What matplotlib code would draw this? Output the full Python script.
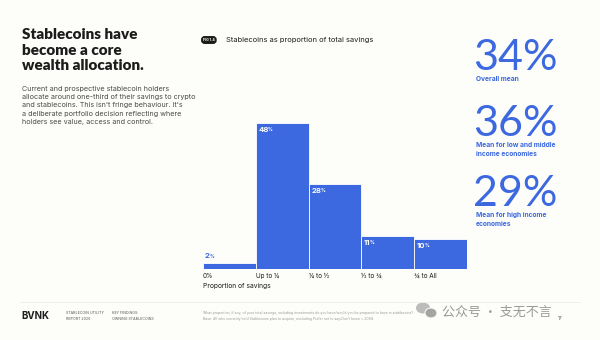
import matplotlib
matplotlib.use("Agg")
import matplotlib.pyplot as plt
from matplotlib.patches import Ellipse
import numpy as np

# savings buckets and share of respondents
buckets = ["0%", "Up to \u00bc", "\u00bc to \u00bd", "\u00bd to \u00be", "\u00be to All"]
shares = [2, 48, 28, 11, 10]

# headline means
mean_values = ["34%", "36%", "29%"]
mean_labels = ["Overall mean", "Mean for low and middle\nincome economies",
               "Mean for high income\neconomies"]

BLUE = "#3c68e0"
BG = "#fdfdf9"
DARK = "#1c1c1c"

plt.rcParams['font.family'] = ['Inter', 'DejaVu Sans']

fig = plt.figure(figsize=(6, 3.4), dpi=100)
fig.patch.set_facecolor(BG)

W, H = 600, 340
def fx(px):
    return px / W
def fy(py):
    return 1 - py / H

# left column
fig.text(fx(22), fy(28), "Stablecoins have\nbecome a core\nwealth allocation.",
         fontsize=11.0, fontweight="heavy", color=DARK, va="top", ha="left",
         linespacing=1.24, family=['Lato', 'DejaVu Sans'])
fig.text(fx(22), fy(86),
         "Current and prospective stablecoin holders\n"
         "allocate around one-third of their savings to crypto\n"
         "and stablecoins. This isn't fringe behaviour. It's\n"
         "a deliberate portfolio decision reflecting where\n"
         "holders see value, access and control.",
         fontsize=5.2, color="#4a4a4a", va="top", ha="left", linespacing=1.45)

# chart header
fig.text(fx(203), fy(40), "FIG 1.4", fontsize=2.6, color="white", fontweight="bold",
         va="center", ha="left",
         bbox=dict(boxstyle="round,pad=0.35,rounding_size=0.8", fc=DARK, ec=DARK))
fig.text(fx(226), fy(40), "Stablecoins as proportion of total savings",
         fontsize=5.4, color=DARK, va="center", ha="left")

# bar chart
ax = fig.add_axes([fx(203), fy(269), fx(467) - fx(203), fy(117) - fy(269)])
ax.set_facecolor(BG)
x = np.arange(len(shares))
ax.bar(x, shares, width=1.0, align="edge", color=BLUE, edgecolor="white", linewidth=0.6)
ax.set_xlim(0, len(shares))
ax.set_ylim(0, 50)
for s in ax.spines.values():
    s.set_visible(False)
ax.set_yticks([])
ax.set_xticks(x)
ax.set_xticklabels(buckets, fontsize=4.6, color=DARK, ha="left")
ax.tick_params(axis="x", length=0, pad=3)
ax.set_xlabel("Proportion of savings", fontsize=4.8, color=DARK, loc="left", labelpad=3)

# value labels with a small percent sign
fig.canvas.draw()
renderer = fig.canvas.get_renderer()
inv = ax.transData.inverted()
for i, v in enumerate(shares):
    if v < 5:
        col = BLUE
        t = ax.annotate(str(v), (i, v), xytext=(1.5, 2.5), textcoords="offset points",
                        fontsize=5.6, color=col, va="bottom", ha="left", fontweight="bold")
    else:
        col = "white"
        t = ax.annotate(str(v), (i, v), xytext=(2, -3), textcoords="offset points",
                        fontsize=5.6, color=col, va="top", ha="left", fontweight="bold")
    bb = t.get_window_extent(renderer)
    x1, y0 = inv.transform((bb.x1, bb.y0))
    ax.annotate("%", (x1, y0), xytext=(-0.6, 0.6), textcoords="offset points",
                fontsize=3.4, color=col, va="bottom", ha="left", fontweight="bold")

# headline means on the right
ys = [37, 103, 173]
for val, lab, yy in zip(mean_values, mean_labels, ys):
    fig.text(fx(473), fy(yy + 33), val, fontsize=31, color=BLUE, fontweight="normal",
             va="baseline", ha="left", family=['Lato', 'DejaVu Sans'])
    fig.text(fx(476), fy(yy + 39), lab, fontsize=4.8, color=BLUE, fontweight="bold",
             va="top", ha="left", linespacing=1.6)

# footer
fig.add_artist(plt.Line2D([fx(20), fx(580)], [fy(302), fy(302)], color="#ececec", lw=0.6))
fig.text(fx(21), fy(316), "BVNK", fontsize=7, fontweight="bold", color=DARK,
         va="center", ha="left")
fig.text(fx(66), fy(316), "STABLECOIN UTILITY\nREPORT 2026", fontsize=2.6, color="#555",
         va="center", ha="left", linespacing=1.4)
fig.text(fx(112), fy(316), "KEY FINDINGS:\nOWNING STABLECOINS", fontsize=2.6, color="#555",
         va="center", ha="left", linespacing=1.4)
fig.text(fx(203), fy(316),
         "What proportion, if any, of your total savings, including investments do you have/would you be prepared to have in stablecoins?\n"
         "Base: All who currently hold Stablecoins plan to acquire, excluding Prefer not to say/Don't know = 2068.",
         fontsize=2.5, color="#999", va="center", ha="left", linespacing=1.4)

# watermark with chat bubble icon
fig.add_artist(Ellipse((fx(423), fy(308)), fx(14), 11 / H, transform=fig.transFigure,
                       fc="#b5b5b5", ec="none", alpha=0.9))
fig.add_artist(Ellipse((fx(431), fy(313)), fx(12), 10 / H, transform=fig.transFigure,
                       fc="#9f9f9f", ec=BG, lw=0.8, alpha=0.95))
fig.text(fx(442), fy(312), "\u516c\u4f17\u53f7 \u00b7 \u652f\u65e0\u4e0d\u8a00", fontsize=9.4,
         color="#9a9a9a", va="center", ha="left",
         family=['Noto Sans CJK SC', 'DejaVu Sans'])
fig.text(fx(558), fy(318), "17", fontsize=3.4, color="#555", va="center", ha="left")

fig.savefig("out.png", dpi=100, facecolor=BG)
